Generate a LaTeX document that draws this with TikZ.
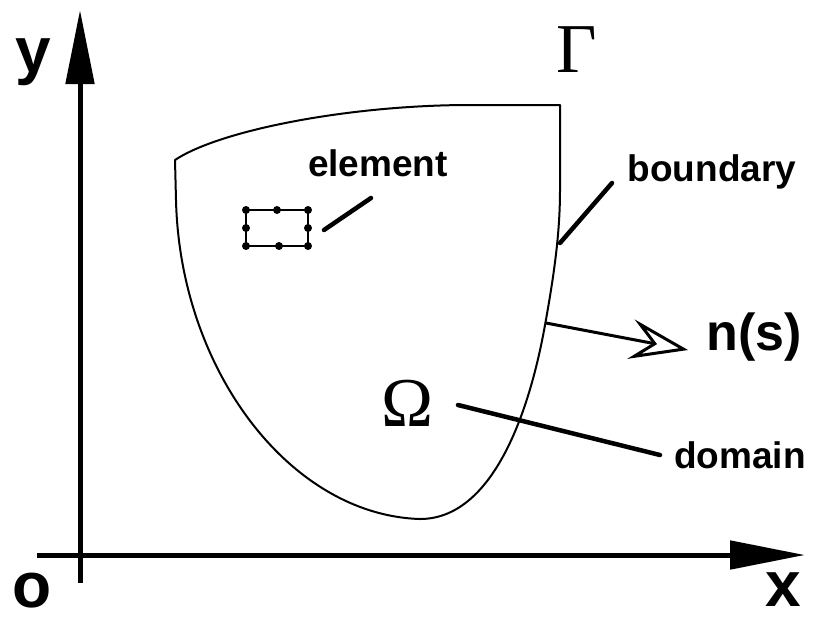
\documentclass[tikz,border=0pt]{standalone}
\usepackage{fontspec}
\setmainfont{Liberation Sans}
\newfontfamily\grk{Liberation Serif}
\usetikzlibrary{arrows.meta}
\begin{document}
\begin{tikzpicture}[x=1pt,y=-1pt,
  lbl/.style={font=\fontsize{37}{37}\selectfont\bfseries, inner sep=0},
  big/.style={font=\fontsize{64}{64}\selectfont\bfseries, inner sep=0},
  mid/.style={font=\fontsize{52}{52}\selectfont\bfseries, inner sep=0},
  greek/.style={font=\fontsize{70}{70}\selectfont\grk, inner sep=0},
  axis/.style={line width=5pt},
  leader/.style={line width=4.5pt, line cap=round},
  bnd/.style={line width=2pt, line join=round},
  dot/.style={circle, fill, inner sep=0, minimum size=8pt}]
\useasboundingbox (0,0) rectangle (829,622);
% axes
\coordinate (ybot) at (80,583);
\coordinate (ytip) at (80,10);
\coordinate (xleft) at (37,555);
\coordinate (xtip) at (805,555);
\draw[axis,-{Triangle[length=74pt,width=28pt]}] (ybot) -- (ytip);
\draw[axis,-{Triangle[length=75pt,width=28pt]}] (xleft) -- (xtip);
\node[big] (ylab) at (33,62) {y};
\node[big] (olab) at (32,591) {o};
\node[big] (xlab) at (783,590) {x};
% boundary curve
\draw[bnd] (560,105) -- (470,105) .. controls (350,105) and (220,130) .. (175,160)
  -- (176,200) .. controls (180,370) and (290,515) .. (420,519)
  .. controls (490,519) and (528,420) .. (545,325)
  .. controls (555,270) and (560,230) .. (560,190) -- cycle;
% element
\coordinate (e1) at (246,210);
\coordinate (e2) at (277,210);
\coordinate (e3) at (308,210);
\coordinate (e4) at (308,228);
\coordinate (e5) at (308,246);
\coordinate (e6) at (279,246);
\coordinate (e7) at (246,246);
\coordinate (e8) at (246,228);
\draw[line width=2pt] (e1) -- (e3) -- (e5) -- (e7) -- cycle;
\foreach \p in {e1,e2,e3,e4,e5,e6,e7,e8} \node[dot] at (\p) {};
\node[lbl] (elem) at (378,163) {element};
\coordinate (el1) at (324,230);
\coordinate (el2) at (371,198);
\draw[leader] (el1) -- (el2);
% boundary label
\node[lbl] (bound) at (712,172) {boundary};
\coordinate (bl1) at (560,243);
\coordinate (bl2) at (612,183);
\draw[leader] (bl1) -- (bl2);
% Gamma
\node[greek] (gam) at (577,50) {Γ};
% normal
\coordinate (n1) at (546,323);
\coordinate (n2) at (688,350);
\draw[line width=3pt, -{Stealth[open,length=58pt,width=40pt,inset=22pt]}] (n1) -- (n2);
\node[mid] (ns) at (754,337) {n(s)};
% Omega / domain
\node[greek] (om) at (408,403) {Ω};
\node[lbl] (dom) at (740,455) {domain};
\coordinate (d1) at (458,405);
\coordinate (d2) at (660,455);
\draw[leader] (d1) -- (d2);
\end{tikzpicture}
\end{document}
